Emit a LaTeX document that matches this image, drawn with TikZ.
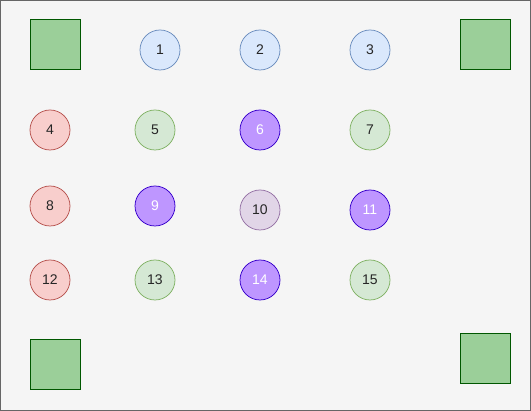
\documentclass[tikz,border=0pt]{standalone}
\usepackage{fontspec}
\setmainfont{Liberation Sans}
\definecolor{bluefill}{HTML}{DAE8FC}
\definecolor{bluedraw}{HTML}{6C8EBF}
\definecolor{redfill}{HTML}{F8CECC}
\definecolor{reddraw}{HTML}{B85450}
\definecolor{greenfill}{HTML}{D5E8D4}
\definecolor{greendraw}{HTML}{82B366}
\definecolor{violetfill}{HTML}{BE96FF}
\definecolor{violetdraw}{HTML}{3700CC}
\definecolor{lilacfill}{HTML}{E1D5E7}
\definecolor{lilacdraw}{HTML}{9673A6}
\definecolor{boxfill}{HTML}{9BCF99}
\definecolor{boxdraw}{HTML}{005700}
\definecolor{pagefill}{HTML}{F5F5F5}
\definecolor{pagedraw}{HTML}{666666}
\begin{document}
\begin{tikzpicture}[x=1pt,y=-1pt,line width=0.75pt,
            dot/.style={circle,draw,minimum size=40pt,inner sep=0pt,font=\fontsize{14pt}{16pt}\selectfont,text=black!85},
            blue dot/.style={dot,fill=bluefill,draw=bluedraw},
            red dot/.style={dot,fill=redfill,draw=reddraw},
            green dot/.style={dot,fill=greenfill,draw=greendraw},
            violet dot/.style={dot,fill=violetfill,draw=violetdraw,text=white},
            lilac dot/.style={dot,fill=lilacfill,draw=lilacdraw},
            corner box/.style={rectangle,draw=boxdraw,fill=boxfill,minimum size=50pt,inner sep=0pt,line width=1pt}]

        % Page
        \draw[fill=pagefill,draw=pagedraw,line width=1pt] (0.5,0.5) rectangle (530.5,410.5);

        % Corner boxes
        \node[corner box] (tl) at (55,45) {};
        \node[corner box] (tr) at (485,45) {};
        \node[corner box] (bl) at (55,365) {};
        \node[corner box] (br) at (485,359) {};

        % Define vertices
        \node[blue dot] (1) at (160,50) {1};
        \node[blue dot] (2) at (260,50) {2};
        \node[blue dot] (3) at (370,50) {3};

        \node[red dot] (4) at (50,130) {4};
        \node[green dot] (5) at (155,130) {5};
        \node[violet dot] (6) at (260,130) {6};
        \node[green dot] (7) at (370,130) {7};

        \node[red dot] (8) at (50,206) {8};
        \node[violet dot] (9) at (155,206) {9};
        \node[lilac dot] (10) at (260,210) {10};
        \node[violet dot] (11) at (370,210) {11};

        \node[red dot] (12) at (50,280) {12};
        \node[green dot] (13) at (155,280) {13};
        \node[violet dot] (14) at (260,280) {14};
        \node[green dot] (15) at (370,280) {15};

\end{tikzpicture}
\end{document}
